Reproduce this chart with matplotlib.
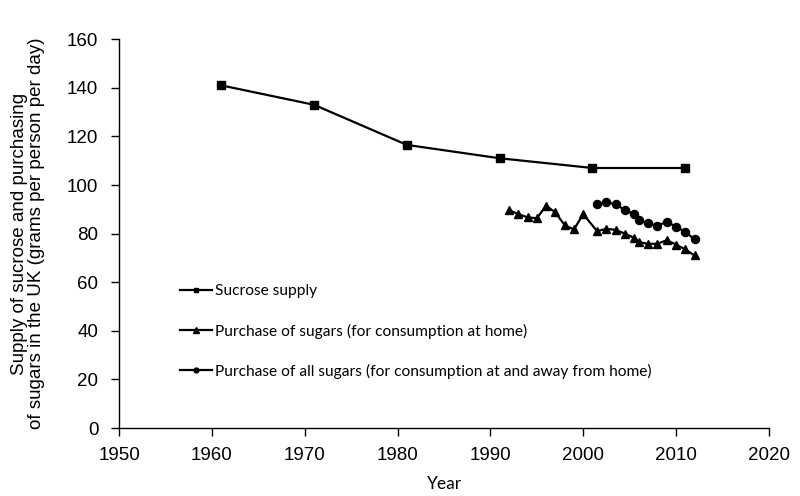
import matplotlib
matplotlib.use("Agg")
import matplotlib.pyplot as plt

sucrose_years = [1961, 1971, 1981, 1991, 2001, 2011]
sucrose_values = [141, 133, 116.5, 111, 107, 107]

home_years = [1992, 1993, 1994, 1995, 1996, 1997, 1998, 1999, 2000,
              2001.5, 2002.5, 2003.5, 2004.5, 2005.5, 2006, 2007, 2008,
              2009, 2010, 2011, 2012]
home_values = [89.7, 88.0, 86.7, 86.3, 91.5, 88.7, 83.5, 81.7, 88.0,
               81.0, 82.0, 81.5, 80.0, 78.2, 76.5, 75.8, 75.8,
               77.3, 75.5, 73.5, 71.0]

all_years = [2001.5, 2002.5, 2003.5, 2004.5, 2005.5, 2006, 2007, 2008,
             2009, 2010, 2011, 2012]
all_values = [92.0, 93.0, 92.0, 89.7, 87.9, 85.6, 84.2, 83.2,
              84.9, 82.8, 80.7, 77.6]

labels = ["Sucrose supply",
          "Purchase of sugars (for consumption at home)",
          "Purchase of all sugars (for consumption at and away from home)"]

x_ticks = list(range(1950, 2021, 10))
y_ticks = list(range(0, 161, 20))

fig = plt.figure(figsize=(8, 4.96), dpi=100)
ax = fig.add_axes([0.149, 0.137, 0.812, 0.784])

lw = 1.6
ax.plot(sucrose_years, sucrose_values, color="black", lw=lw, marker="s",
        markersize=5.8, label=labels[0])
ax.plot(home_years, home_values, color="black", lw=lw, marker="^",
        markersize=6.3, label=labels[1])
ax.plot(all_years, all_values, color="black", lw=lw, marker="o",
        markersize=5.8, label=labels[2])

ax.set_xlim(1950, 2020)
ax.set_ylim(0, 160)
ax.set_xticks(x_ticks)
ax.set_yticks(y_ticks)
for s in ["top", "right"]:
    ax.spines[s].set_visible(False)
for s in ["left", "bottom"]:
    ax.spines[s].set_linewidth(1.0)
ax.tick_params(direction="out", length=6, width=1.0,
               labelsize=13.5, labelfontfamily="Liberation Sans")
ax.tick_params(axis="y", pad=9)
ax.tick_params(axis="x", pad=8)

ax.set_xlabel("Year", fontfamily="Lato", fontsize=12.5, labelpad=8)
ax.set_ylabel("Supply of sucrose and purchasing\nof sugars in the UK (grams per person per day)",
              fontfamily="Liberation Sans", fontsize=13.5, labelpad=16,
              linespacing=1.0)

leg = ax.legend(loc="upper left", bbox_to_anchor=(0.208, 0.455),
                bbox_transform=fig.transFigure, frameon=False,
                handlelength=2.0, handletextpad=0.2, labelspacing=1.62,
                markerscale=0.6, prop={"family": "Lato", "size": 11.2})

fig.savefig("out.png", dpi=100)
